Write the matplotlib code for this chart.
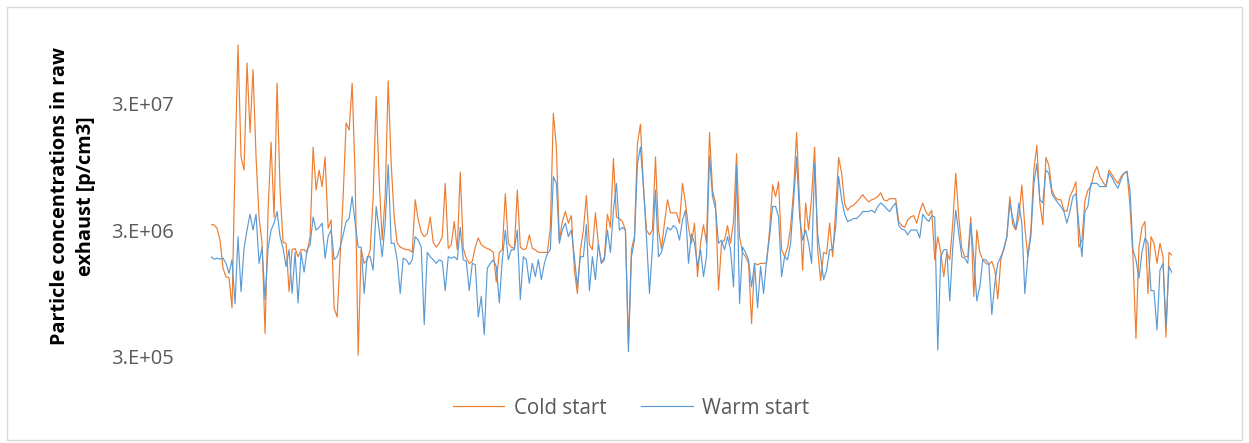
import numpy as np
import matplotlib
matplotlib.use("Agg")
import matplotlib.pyplot as plt
from matplotlib.patches import Rectangle

# Particle concentration in raw exhaust, in 1e6 p/cm3,
# one reading every ~5.6 s over the 1800 s test cycle
cold_start = [
    3.3, 3.3, 3.1, 2.5, 1.5, 1.28, 1.27, 0.73, 10, 86, 11.3, 8.9, 62, 17.6, 55, 11.3, 3.8, 2.36, 0.46, 4.2,
    14.8, 3.8, 43, 6.2, 2.4, 2.36, 0.98, 2.1, 2.15, 1.85, 2.1, 2.1, 2.0, 2.66, 13.5, 6.2, 8.9,
    6.6, 11.3, 3.1, 3.6, 0.73, 0.62, 1.85, 5.5, 21, 18.4, 43, 7.9, 0.31, 2.1, 1.64, 1.75, 2.1, 5.5, 34, 7.4,
    2.5, 5.5, 45, 10, 3.8, 2.36, 2.2, 2.15, 2.1, 2.1, 2.0, 5.2, 3.6, 2.9, 2.66, 2.8, 3.8, 2.4, 2.2, 2.36,
    2.66, 7.0, 2.15, 2.3, 3.5, 2.1, 8.6, 2.15, 1.8, 1.64, 1.7, 2.2, 2.6, 2.3, 2.2, 2.15, 2.1, 2.0, 1.17, 2.0,
    2.1, 5.8, 2.36, 2.2, 2.15, 6.2, 2.2, 2.1, 2.15, 2.75, 2.15, 2.1, 2.0, 2.0, 2.0, 2.0, 3.1, 25, 13.5, 2.5,
    3.5, 4.2, 3.4, 3.9, 1.45, 0.95, 2.1, 3.0, 5.6, 2.3, 2.1, 4.1, 2.3, 1.64, 1.85, 4.0, 3.15, 11, 3.8, 3.7,
    3.5, 3.0, 0.38, 2.1, 2.66, 14.4, 20.5, 6.6, 3.0, 2.75, 3.0, 11.3, 3.0, 2.15, 3.4, 5.2, 4.1, 4.1, 4.1, 3.4,
    7.0, 4.9, 3.15, 2.36, 3.4, 1.29, 2.36, 3.3, 2.36, 17.6, 6.2, 4.9, 1.01, 2.36, 2.5, 3.25, 2.36, 3.5, 12, 2.66,
    2.0, 1.85, 1.64, 0.55, 1.64, 1.6, 1.64, 1.64, 1.64, 3.0, 6.8, 5.5, 7.2, 2.1, 1.85, 2.2, 3.15, 6.2, 17.6, 4.9,
    1.45, 4.9, 3.0, 5.5, 13.5, 2.1, 1.2, 2.0, 1.95, 3.4, 1.85, 4.3, 11.2, 8.4, 4.8, 4.3, 4.6, 4.7, 5.0, 5.3,
    5.7, 5.3, 5.0, 5.2, 5.3, 5.5, 5.9, 5.2, 5.1, 5.3, 5.3, 5.3, 3.5, 3.25, 3.15, 3.6, 3.8, 3.9, 3.4, 4.2,
    4.9, 4.2, 3.9, 4.3, 1.75, 2.66, 2.0, 1.29, 2.0, 1.75, 3.4, 8.4, 3.8, 2.15, 1.85, 1.85, 3.8, 0.9, 3.0, 2.0,
    1.75, 1.64, 1.6, 1.7, 1.45, 0.86, 1.75, 2.15, 2.66, 5.5, 3.3, 3.0, 3.8, 6.8, 3.15, 1.85, 3.0, 8.9, 14, 4.9,
    3.3, 11.2, 9.7, 6.2, 5.5, 5.2, 5.2, 4.3, 4.2, 5.5, 6.2, 7.2, 2.2, 2.5, 5.1, 6.2, 6.6, 8.4, 9.5, 7.9,
    7.2, 6.6, 8.9, 8.2, 7.5, 7.0, 7.9, 8.4, 8.7, 4.7, 1.85, 0.42, 2.2, 3.15, 3.5, 0.95, 2.66, 2.36, 1.64, 2.36,
    1.85, 0.43, 2.0, 1.9,
]
warm_start = [
    1.85, 1.77, 1.8, 1.77, 1.8, 1.64, 1.37, 1.75, 0.79, 2.66, 0.98, 2.15, 3.0, 4.0, 3.0, 4.0, 1.64, 2.2, 0.85, 2.15,
    3.0, 3.4, 4.2, 2.66, 2.15, 1.55, 2.1, 0.95, 2.0, 0.8, 2.0, 1.4, 2.1, 2.3, 3.8, 3.0, 3.15,
    3.4, 1.8, 2.66, 3.0, 1.75, 1.85, 2.2, 2.75, 3.5, 3.7, 5.5, 3.4, 2.2, 2.2, 0.95, 1.85, 1.85, 1.45, 4.6, 3.0,
    1.85, 3.4, 9.8, 2.36, 2.36, 1.75, 0.95, 1.8, 1.75, 1.6, 1.75, 2.66, 2.5, 2.2, 0.54, 2.0, 1.85, 1.75, 1.64, 1.75,
    1.7, 1.0, 1.85, 1.8, 1.85, 1.75, 3.15, 1.75, 1.7, 1.0, 1.64, 1.6, 0.62, 0.9, 0.45, 1.5, 1.64, 1.75, 1.55, 0.8,
    1.75, 3.0, 1.75, 2.1, 2.1, 3.0, 0.85, 1.85, 1.75, 1.14, 1.64, 1.29, 1.75, 1.22, 1.64, 1.95, 2.1, 7.9, 7.0, 2.36,
    3.0, 3.4, 2.66, 3.0, 1.85, 1.07, 1.85, 1.85, 3.3, 1.0, 1.85, 1.22, 2.36, 1.64, 1.75, 3.0, 2.0, 4.3, 7.0, 3.0,
    3.15, 3.0, 0.33, 1.85, 2.5, 10, 13.5, 6.6, 2.66, 0.95, 2.2, 6.2, 1.85, 2.0, 2.5, 3.15, 3.0, 3.25, 3.1, 2.5,
    3.6, 4.3, 1.64, 2.8, 2.36, 1.55, 2.1, 1.29, 1.85, 11.5, 5.5, 4.4, 2.36, 2.5, 2.1, 2.66, 2.1, 1.07, 9.7, 0.79,
    2.2, 2.0, 1.75, 1.07, 1.64, 0.73, 1.55, 0.95, 1.75, 2.66, 4.6, 4.6, 3.8, 1.29, 1.85, 1.75, 2.36, 5.2, 11.3, 3.8,
    2.5, 3.0, 2.36, 1.64, 10, 2.8, 1.85, 1.22, 1.45, 2.1, 2.1, 3.15, 7.9, 5.2, 4.0, 3.5, 3.6, 3.7, 3.7, 3.9,
    4.2, 4.2, 4.2, 4.3, 4.1, 4.6, 4.9, 4.7, 4.4, 4.2, 4.6, 4.9, 3.25, 3.05, 3.0, 2.75, 3.0, 3.0, 3.0, 2.6,
    4.0, 3.7, 3.5, 3.9, 3.8, 0.34, 1.85, 2.1, 2.1, 0.83, 2.2, 4.3, 2.8, 1.85, 1.8, 1.64, 3.4, 1.85, 0.83, 1.07,
    1.75, 1.75, 1.64, 0.65, 1.14, 1.64, 1.85, 2.1, 2.66, 4.9, 3.7, 3.05, 4.9, 3.4, 0.95, 1.85, 2.66, 7.0, 10, 5.2,
    4.9, 8.9, 8.4, 5.8, 5.3, 4.9, 4.6, 4.2, 3.4, 4.2, 5.5, 5.8, 3.3, 1.85, 4.2, 4.6, 7.0, 7.0, 7.0, 6.6,
    6.6, 6.6, 8.4, 7.8, 7.0, 6.4, 7.5, 8.4, 8.7, 6.2, 2.1, 1.75, 1.25, 2.0, 2.6, 2.36, 1.0, 1.0, 0.49, 1.45,
    1.64, 0.52, 1.55, 1.38,
]
duration_s = 1800
ytick_values = [3e5, 3e6, 3e7]
ytick_labels = ["3.E+05", "3.E+06", "3.E+07"]

plt.rcParams["font.family"] = ["Open Sans", "DejaVu Sans"]

fig = plt.figure(figsize=(12.49, 4.43), dpi=100)
fig.patches.append(Rectangle((7 / 1249, 3 / 443), 1235 / 1249, 433 / 443,
                             transform=fig.transFigure, fill=False,
                             edgecolor="#d9d9d9", linewidth=1))

ax = fig.add_axes([211 / 1249, 86 / 443, 961 / 1249, 327 / 443])
t = np.linspace(0, duration_s, len(cold_start))
ax.plot(t, np.array(cold_start) * 1e6, color="#ED7D31", lw=0.85, label="Cold start")
ax.plot(t, np.array(warm_start) * 1e6, color="#5B9BD5", lw=0.85, label="Warm start")

ax.set_yscale("log")
ax.set_ylim(3e5, 1.13e8)
ax.set_xlim(0, duration_s)
ax.set_yticks(ytick_values)
ax.set_yticklabels(ytick_labels)
ax.yaxis.set_minor_locator(matplotlib.ticker.NullLocator())
ax.set_xticks([])
ax.tick_params(axis="y", length=0, pad=27, labelsize=14.5, labelcolor="#595959")
for s in ax.spines.values():
    s.set_visible(False)

fig.text(73 / 1249, 1 - 196 / 443, "Particle concentrations in raw\nexhaust [p/cm3]",
         rotation=90, ha="center", va="center", fontsize=14.3, fontweight="bold",
         linespacing=1.45, color="black")

fig.legend(loc="center", bbox_to_anchor=(631 / 1249, 1 - 408 / 443), ncol=2,
           frameon=False, fontsize=14.8, handlelength=2.5, columnspacing=1.7,
           handletextpad=0.45, labelcolor="#595959")

fig.savefig("out.png", dpi=100)
